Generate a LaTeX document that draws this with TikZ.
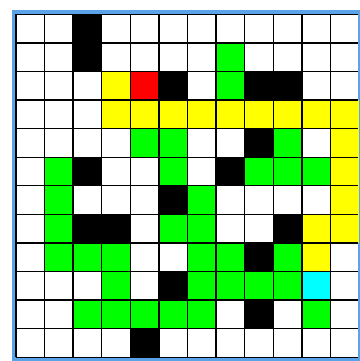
\documentclass[tikz,border=0pt]{standalone}
\usepackage{tikz}
\definecolor{frameblue}{RGB}{91,163,232}
\definecolor{cellgreen}{RGB}{0,255,0}
\definecolor{cellyellow}{RGB}{255,255,0}
\definecolor{cellred}{RGB}{255,0,0}
\definecolor{cellcyan}{RGB}{0,255,255}

\begin{document}
\begin{tikzpicture}[
    x=1cm, y=-1cm,
    wall/.style={fill=black},
    visited/.style={fill=cellgreen},
    route/.style={fill=cellyellow},
    startcell/.style={fill=cellred},
    goalcell/.style={fill=cellcyan},
    gridline/.style={line width=1.4pt, draw=black}
]
\useasboundingbox (-0.56,-0.5) rectangle (12.03,12.13);

% Frame
\fill[frameblue] (-0.14,-0.15) rectangle (12.03,12.13);
\fill[white] (0,0) rectangle (11.97,12);

% Walls
\foreach \c/\r in {2/0,2/1,5/2,8/2,9/2,8/4,2/5,7/5,5/6,2/7,3/7,9/7,8/8,5/9,8/10,4/11}
    \path[wall] (\c,\r) rectangle ++(1,1);

% Explored cells
\foreach \c/\r in {7/1,7/2,4/4,5/4,9/4,1/5,5/5,8/5,9/5,10/5,1/6,6/6,1/7,5/7,6/7,
    1/8,2/8,3/8,6/8,7/8,9/8,3/9,6/9,7/9,8/9,9/9,2/10,3/10,4/10,5/10,6/10,10/10}
    \path[visited] (\c,\r) rectangle ++(1,1);

% Path
\foreach \c/\r in {3/2,3/3,4/3,5/3,6/3,7/3,8/3,9/3,10/3,11/3,11/4,11/5,11/6,10/7,11/7,10/8}
    \path[route] (\c,\r) rectangle ++(1,1);

% Start and goal
\path[startcell] (4,2) rectangle ++(1,1);
\path[goalcell] (10,9) rectangle ++(1,1);

% Grid
\foreach \i in {0,...,12}
    \draw[gridline] (0,\i) -- (11.97,\i);
\foreach \i in {0,...,11}
    \draw[gridline] (\i,0) -- (\i,12);

\end{tikzpicture}
\end{document}
